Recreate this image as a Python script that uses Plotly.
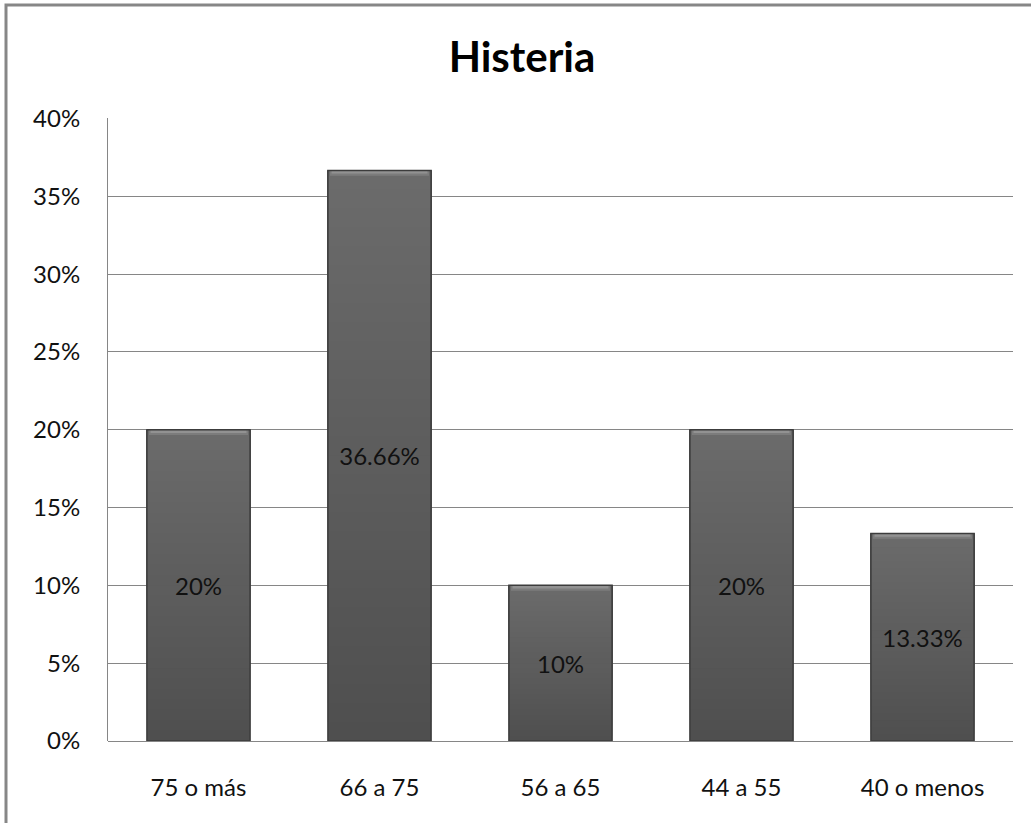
import plotly.graph_objects as go

categories = ["75 o más", "66 a 75", "56 a 65", "44 a 55", "40 o menos"]
values = [0.20, 0.3666, 0.10, 0.20, 0.1333]
labels = ["20%", "36.66%", "10%", "20%", "13.33%"]
y_ticks = [0, 0.05, 0.10, 0.15, 0.20, 0.25, 0.30, 0.35, 0.40]

W, H = 1031, 823
ML, MR, MT, MB = 108, 18, 118, 82
pw, ph = W - ML - MR, H - MT - MB
FONT = "Lato"
BAR_W = 0.57

fig = go.Figure()

# vertical shading: stacked layers from dark (bottom) to light (top);
# each layer runs to the bar top so there are no seams between layers
n_slices = 30
dark, light = 0x4f, 0x6b
for i in range(n_slices):
    g = round(dark + (light - dark) * (i + 0.5) / n_slices)
    fig.add_trace(go.Bar(
        x=categories, y=[v * (1 - i / n_slices) for v in values],
        base=[v * i / n_slices for v in values],
        width=BAR_W, marker=dict(color=f"rgb({g},{g},{g})", line=dict(width=0)),
        hoverinfo="skip",
    ))

# bevel highlight along the top of each bar
bevel = 0.0034
fig.add_trace(go.Bar(
    x=categories, y=[bevel] * len(values), base=[v - bevel for v in values],
    width=BAR_W * 0.96, marker=dict(color="#7c7c7c", line=dict(width=0)),
    hoverinfo="skip",
))
fig.add_trace(go.Bar(
    x=categories, y=[bevel * 0.5] * len(values), base=[v - bevel * 0.6 for v in values],
    width=BAR_W * 0.93, marker=dict(color="#929292", line=dict(width=0)),
    hoverinfo="skip",
))

# outline and value labels
fig.add_trace(go.Bar(
    x=categories, y=values, width=BAR_W,
    marker=dict(color="rgba(0,0,0,0)", line=dict(color="#3c3c3c", width=1.5)),
    text=labels, textposition="inside", insidetextanchor="middle",
    textfont=dict(family=FONT, size=24, color="#111111"),
    hoverinfo="skip",
))

fig.update_layout(
    width=W, height=H, barmode="overlay",
    margin=dict(l=ML, r=MR, t=MT, b=MB),
    paper_bgcolor="white", plot_bgcolor="white",
    showlegend=False,
    title=dict(text="<b>Histeria</b>", x=522 / W, xanchor="center",
               y=1 - 57 / H, yanchor="middle",
               font=dict(family=FONT, size=42, color="black")),
    xaxis=dict(showgrid=False, showline=False, ticks="", ticklabelstandoff=30,
               tickfont=dict(family=FONT, size=24, color="#111111")),
    yaxis=dict(range=[0, 0.4003], tickvals=y_ticks, tickformat=".0%",
               showgrid=True, gridcolor="#868686", gridwidth=1,
               showline=True, linecolor="#868686", linewidth=1,
               zeroline=True, zerolinecolor="#868686", zerolinewidth=1,
               ticks="", ticklabelstandoff=22,
               tickfont=dict(family=FONT, size=24, color="#111111")),
)

# chart frame around the whole figure
fig.add_shape(type="rect", xref="paper", yref="paper",
              x0=(6 - ML) / pw, x1=(1045 - ML) / pw,
              y0=(H - MB - 840) / ph, y1=(H - MB - 5) / ph,
              line=dict(color="#878787", width=3), layer="above")

fig.write_html("out.html")
